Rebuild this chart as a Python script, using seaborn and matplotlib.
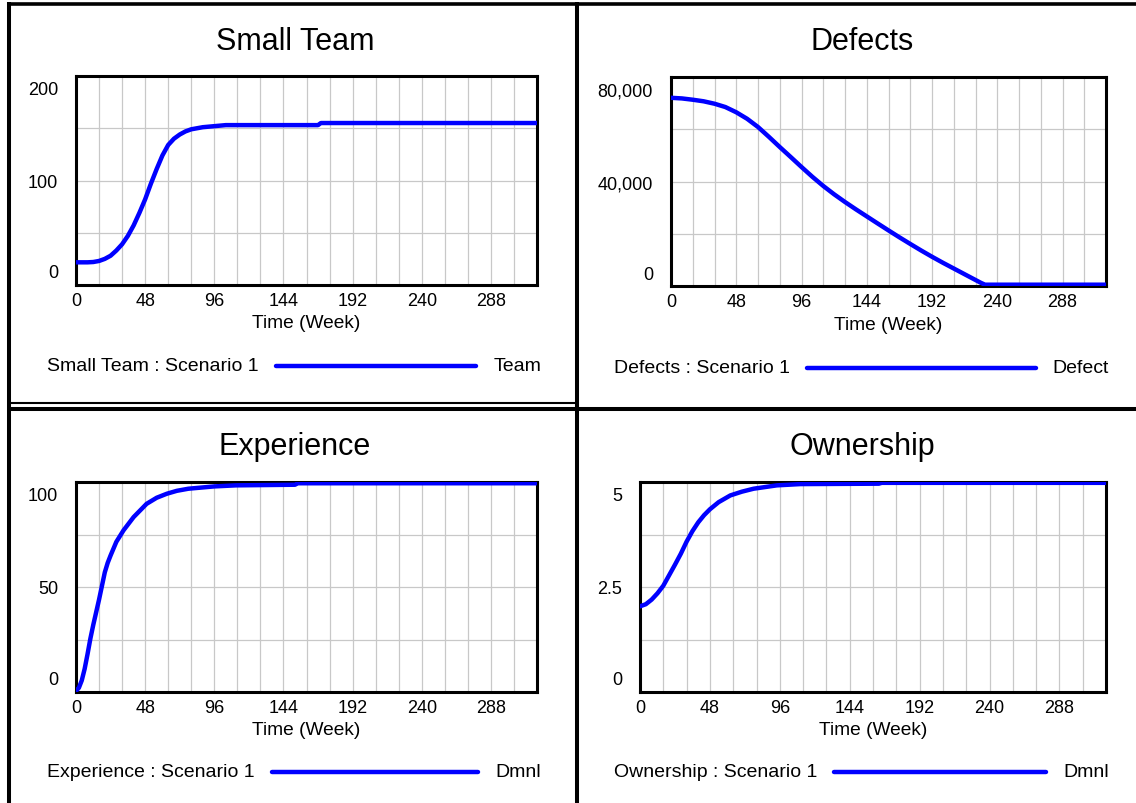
import seaborn as sns
import matplotlib.pyplot as plt
import matplotlib.transforms as mtransforms
from matplotlib.lines import Line2D

sns.set_theme(style="white")
plt.rcParams['font.family'] = ['Liberation Sans', 'DejaVu Sans']
plt.rcParams['text.color'] = 'black'
plt.rcParams['axes.labelcolor'] = 'black'

# --- data ---
team_t = [0, 8, 12, 16, 20, 24, 28, 32, 36, 40, 44, 48, 52, 56, 60, 64, 68, 72, 76, 80, 88, 96, 104, 168, 170, 320]
team_v = [21.7, 21.7, 22, 23, 25, 28, 33, 39, 47, 57, 69, 82, 97, 111, 124, 134, 140, 144, 147, 149, 151, 152, 153, 153, 155, 155]

defect_t = [0, 8, 16, 24, 32, 40, 48, 56, 64, 72, 80, 88, 96, 104, 112, 120, 128, 136, 144, 152, 160,
            168, 176, 184, 192, 200, 208, 216, 224, 228, 231, 320]
defect_v = [72040, 71800, 71300, 70700, 69770, 68500, 66500, 64000, 60860, 57100, 53200, 49400, 45550, 41800,
            38300, 35100, 32150, 29350, 26650, 23950, 21280, 18650, 16100, 13600, 11200, 8900, 6700, 4500,
            2300, 1200, 500, 500]

exp_t = [0, 2, 4, 6, 8, 10, 12, 14, 16, 18, 20, 22, 24, 28, 33, 40, 49, 56, 63, 70, 78, 96, 111, 152, 154, 320]
exp_v = [0.5, 2, 5.5, 11, 18, 25.5, 32, 38, 44, 50.5, 57, 61.5, 65, 71.5, 77, 83.3, 89.6, 92.5, 94.4, 95.8,
         96.8, 97.9, 98.4, 98.7, 99.4, 99.4]

own_t = [0, 4, 8, 12, 16, 20, 24, 28, 32, 36, 40, 44, 48, 54, 62, 70, 78, 94, 110, 164, 166, 320]
own_v = [2.04, 2.09, 2.2, 2.35, 2.53, 2.78, 3.03, 3.29, 3.58, 3.83, 4.04, 4.21, 4.35, 4.52, 4.68, 4.77,
         4.84, 4.92, 4.95, 4.96, 4.98, 4.98]

x_grid = [0, 16, 32, 48, 64, 80, 96, 112, 128, 144, 160, 176, 192, 208, 224, 240, 256, 272, 288, 304, 320]
x_labels = ['0', '', '', '48', '', '', '96', '', '', '144', '', '', '192', '', '', '240', '', '', '288', '', '']

panels = [
    dict(title="Small Team", t=team_t, v=team_v, yticks=[0, 50, 100, 150, 200],
         ylabels=['0', '', '100', '', '200'], name="Small Team : Scenario 1", unit="Team",
         rect=(76, 77, 537, 286), title_xy=(295, 42), legend_y=367, legend_x=47, unit_x=541),
    dict(title="Defects", t=defect_t, v=defect_v, yticks=[0, 20000, 40000, 60000, 80000],
         ylabels=['0', '', '40,000', '', '80,000'], name="Defects : Scenario 1", unit="Defect",
         rect=(671, 78, 1106, 287), title_xy=(862, 42), legend_y=369, legend_x=614, unit_x=1109),
    dict(title="Experience", t=exp_t, v=exp_v, yticks=[0, 25, 50, 75, 100],
         ylabels=['0', '', '50', '', '100'], name="Experience : Scenario 1", unit="Dmnl",
         rect=(76, 483, 537, 693), title_xy=(295, 447), legend_y=773, legend_x=47, unit_x=541),
    dict(title="Ownership", t=own_t, v=own_v, yticks=[0, 1.25, 2.5, 3.75, 5],
         ylabels=['0', '', '2.5', '', '5'], name="Ownership : Scenario 1", unit="Dmnl",
         rect=(640, 483, 1106, 693), title_xy=(862, 447), legend_y=773, legend_x=614, unit_x=1109),
]

W, H = 1136, 804
fig = plt.figure(figsize=(W / 100, H / 100), dpi=100)
blue = '#0000ff'

legend_items = []
for p in panels:
    x0, y0, x1, y1 = p['rect']
    ax = fig.add_axes([x0 / W, 1 - y1 / H, (x1 - x0) / W, (y1 - y0) / H])
    sns.lineplot(x=p['t'], y=p['v'], ax=ax, color=blue, lw=3.2)
    ax.set_xlim(0, 320)
    ax.set_ylim(p['yticks'][0], p['yticks'][-1])
    ax.set_xticks(x_grid)
    ax.set_xticklabels(x_labels)
    ax.set_yticks(p['yticks'])
    ax.set_yticklabels(p['ylabels'])
    ax.grid(True, color='#c8c8c8', lw=0.9)
    ax.tick_params(axis='both', length=0, labelsize=13, colors='black')
    ax.tick_params(axis='x', pad=5)
    ax.tick_params(axis='y', pad=13)
    for s in ax.spines.values():
        s.set_linewidth(2.2)
        s.set_color('black')
        s.set_zorder(1)
    ax.set_xlabel("Time (Week)", fontsize=13.8, labelpad=4, color='black')
    ax.set_ylabel("")
    # Vensim insets the top / bottom labels
    ticks = ax.yaxis.get_major_ticks()
    ticks[-1].label1.set_transform(ticks[-1].label1.get_transform() +
                                   mtransforms.ScaledTranslation(0, -0.12, fig.dpi_scale_trans))
    ticks[0].label1.set_transform(ticks[0].label1.get_transform() +
                                  mtransforms.ScaledTranslation(0, 0.14, fig.dpi_scale_trans))

    tx, ty = p['title_xy']
    fig.text(tx / W, 1 - ty / H, p['title'], fontsize=22, ha='center', va='center', color='black')
    lab = fig.text(p['legend_x'] / W, 1 - p['legend_y'] / H, p['name'], fontsize=14,
                   ha='left', va='center', color='black')
    unit = fig.text(p['unit_x'] / W, 1 - p['legend_y'] / H, p['unit'], fontsize=14,
                    ha='right', va='center', color='black')
    legend_items.append((lab, unit, p['legend_y']))

# legend line between the series name and the unit
fig.canvas.draw()
r = fig.canvas.get_renderer()
for lab, unit, ly in legend_items:
    a = lab.get_window_extent(r).x1 + 17
    b = unit.get_window_extent(r).x0 - 17
    fig.add_artist(Line2D([a / W, b / W], [1 - ly / H, 1 - ly / H], color=blue, lw=3.2,
                          solid_capstyle='round', transform=fig.transFigure))

# panel borders
def hline(y, xa, xb, w):
    fig.add_artist(Line2D([xa / W, xb / W], [1 - y / H, 1 - y / H], color='black', lw=w,
                          solid_capstyle='butt', transform=fig.transFigure))

def vline(x, ya, yb, w):
    fig.add_artist(Line2D([x / W, x / W], [1 - ya / H, 1 - yb / H], color='black', lw=w,
                          solid_capstyle='butt', transform=fig.transFigure))

hline(5, 7, W, 2.6)
vline(9, 3.2, H, 2.9)
vline(577, 3.2, H, 2.9)
hline(404, 9, 577, 1.5)
hline(409.5, 9, W, 2.9)

fig.savefig("out.png", dpi=100)
